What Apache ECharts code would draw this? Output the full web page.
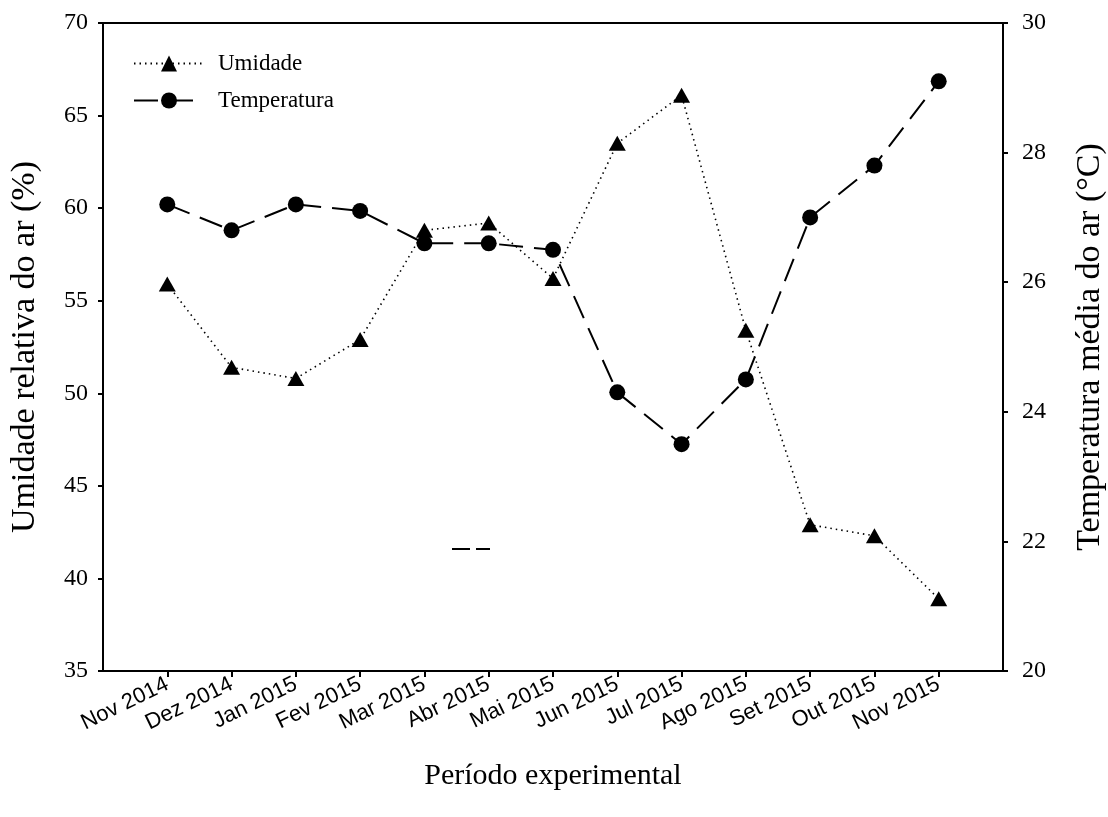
<!DOCTYPE html>
<html>
  <head>
    <meta charset="utf-8">
    <title></title>
    <script src="https://cdn.jsdelivr.net/npm/echarts@6/dist/echarts.min.js"></script>
    <style media="screen">
    html,body{
      height:100%;
      width:100%;
      margin:0px;
      background:#fff;
    }
    #chartDiv{
      width:1108px;
      height:817px;
    }
    </style>
  </head>
  <body>
    <div id="chartDiv"></div>
    <script type="text/javascript">
      // meses do periodo experimental
      var meses = ['Nov 2014','Dez 2014','Jan 2015','Fev 2015','Mar 2015','Abr 2015','Mai 2015',
                   'Jun 2015','Jul 2015','Ago 2015','Set 2015','Out 2015','Nov 2015'];
      // umidade relativa (%)
      var umidade = [55.9, 51.4, 50.8, 52.9, 58.8, 59.2, 56.2, 63.5, 66.1, 53.4, 42.9, 42.3, 38.9];
      // temperatura media (C)
      var temperatura = [27.2, 26.8, 27.2, 27.1, 26.6, 26.6, 26.5, 24.3, 23.5, 24.5, 27.0, 27.8, 29.1];

      // uma categoria vazia em cada ponta (o grafico original deixa meio passo de folga)
      var cats = [''].concat(meses, ['']);
      function pad(arr){ return [null].concat(arr, [null]); }

      var serif = '"Liberation Serif", "DejaVu Serif", serif';
      var sans = '"Liberation Sans", Arial, sans-serif';

      var option = {
        animation: false,
        grid: {
          left: 103,
          right: 105,
          top: 23,
          bottom: 146,
          containLabel: false,
          outerBoundsMode: 'none',
          show: true,
          borderColor: '#000',
          borderWidth: 2
        },
        legend: {
          orient: 'vertical',
          left: 128,
          top: 47,
          itemWidth: 70,
          itemHeight: 20,
          itemGap: 14,
          textStyle: { fontFamily: serif, fontSize: 23, color: '#000', padding: [0, 0, 0, 9] },
          data: ['Umidade', 'Temperatura']
        },
        xAxis: {
          type: 'category',
          boundaryGap: false,
          data: cats,
          name: 'Período experimental',
          nameLocation: 'middle',
          nameGap: 90,
          nameTextStyle: { fontFamily: serif, fontSize: 30, color: '#000' },
          axisLine: { lineStyle: { color: '#000', width: 2 } },
          axisTick: {
            length: 6,
            lineStyle: { color: '#000', width: 2 },
            interval: function(idx){ return idx > 0 && idx < cats.length - 1; }
          },
          axisLabel: {
            interval: 0,
            rotate: 26,
            margin: 12,
            fontFamily: sans,
            fontSize: 22,
            color: '#000'
          },
          splitLine: { show: false }
        },
        yAxis: [
          {
            type: 'value',
            min: 35,
            max: 70,
            interval: 5,
            name: 'Umidade relativa do ar (%)',
            nameLocation: 'middle',
            nameGap: 61,
            nameTextStyle: { fontFamily: serif, fontSize: 34, color: '#000' },
            axisLine: { show: true, lineStyle: { color: '#000', width: 2 } },
            axisTick: { show: true, length: 5, lineStyle: { color: '#000', width: 2 } },
            axisLabel: { margin: 15, fontFamily: serif, fontSize: 24, color: '#000' },
            splitLine: { show: false }
          },
          {
            type: 'value',
            min: 20,
            max: 30,
            interval: 2,
            name: 'Temperatura média do ar (°C)',
            nameLocation: 'middle',
            nameGap: 70,
            nameRotate: 90,
            nameTextStyle: { fontFamily: serif, fontSize: 34, color: '#000' },
            axisLine: { show: true, lineStyle: { color: '#000', width: 2 } },
            axisTick: { show: true, length: 5, lineStyle: { color: '#000', width: 2 } },
            axisLabel: { margin: 19, fontFamily: serif, fontSize: 24, color: '#000' },
            splitLine: { show: false }
          }
        ],
        series: [
          {
            name: 'Umidade',
            type: 'line',
            yAxisIndex: 0,
            symbol: 'triangle',
            symbolSize: [17, 15],
            itemStyle: { color: '#000' },
            lineStyle: { color: '#000', width: 1.6, type: [1.5, 4] },
            data: pad(umidade)
          },
          {
            name: 'Temperatura',
            type: 'line',
            yAxisIndex: 1,
            symbol: 'circle',
            symbolSize: 16,
            itemStyle: { color: '#000' },
            lineStyle: { color: '#000', width: 2, type: [24, 11] },
            data: pad(temperatura)
          }
        ],
        graphic: [
          {
            type: 'line',
            shape: { x1: 452, y1: 549, x2: 490, y2: 549 },
            style: { stroke: '#000', lineWidth: 2, lineDash: [18, 6] }
          }
        ]
      };

      var chart = echarts.init(document.getElementById('chartDiv'));
      chart.setOption(option);
    </script>
  </body>
</html>
